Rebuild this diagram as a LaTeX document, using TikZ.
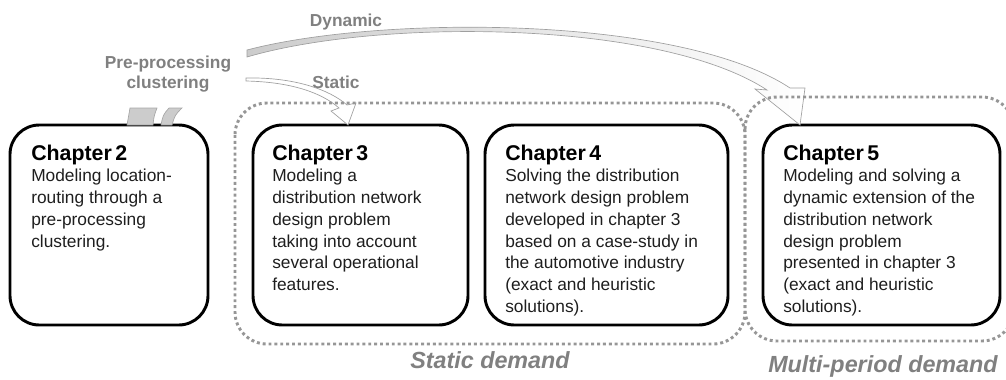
\documentclass[tikz,border=0pt]{standalone}
\usepackage{fontspec}
\setmainfont{Liberation Sans}
\usepackage{tikz}
\usetikzlibrary{positioning,calc}
\definecolor{lblgray}{RGB}{128,128,128}
\definecolor{dotgray}{RGB}{150,150,150}
\definecolor{bodytext}{RGB}{30,30,30}

\begin{document}
\begin{tikzpicture}[x=0.75pt, y=-0.75pt,
			chapbox/.style = {draw, line width=2.2pt, rounded corners=22pt,
				minimum height=150pt, inner sep=0pt, outer sep=0pt},
			chaptext/.style = {anchor=north west, align=left, inner sep=0pt,
				text=bodytext, font=\fontsize{13}{16.3}\selectfont},
			demandbox/.style = {draw=dotgray, line width=2.2pt,
				dash pattern=on 2.2pt off 2.2pt, rounded corners=24pt},
			lbl/.style = {text=lblgray, font=\bfseries\fontsize{13}{15.4}\selectfont,
				align=center, inner sep=0pt},
			demandlbl/.style = {text=lblgray, anchor=base, inner sep=0pt,
				font=\bfseries\itshape\fontsize{17.5}{20}\selectfont},
			blockarrow/.style = {draw=gray!75, line width=0.5pt, fill=white},
			stubband/.style = {draw=gray!70, line width=0.5pt, fill=gray!40}]
			\useasboundingbox (0,0) rectangle (1006,379);

			% chapters
			\node[chapbox, minimum width=148.5pt] (ch2) at (109,225) {};
			\node[chapbox, minimum width=161.25pt, right=33.75pt of ch2] (ch3) {};
			\node[chapbox, minimum width=182.25pt, right=12.75pt of ch3] (ch4) {};
			\node[chapbox, minimum width=177.75pt, right=26.25pt of ch4] (ch5) {};

			\node[chaptext] (t2) at ([shift={(21,19.5)}]ch2.north west)
			{{\color{black}\bfseries\fontsize{16}{16.3}\selectfont Chapter\,2}\\
				Modeling location-\\
				routing through a\\
				pre-processing\\
				clustering.};
			\node[chaptext] (t3) at ([shift={(19,19.5)}]ch3.north west)
			{{\color{black}\bfseries\fontsize{16}{16.3}\selectfont Chapter\,3}\\
				Modeling a\\
				distribution network\\
				design problem\\
				taking into account\\
				several operational\\
				features.};
			\node[chaptext] (t4) at ([shift={(20,19.5)}]ch4.north west)
			{{\color{black}\bfseries\fontsize{16}{16.3}\selectfont Chapter\,4}\\
				Solving the distribution\\
				network design problem\\
				developed in chapter 3\\
				based on a case-study in\\
				the automotive industry\\
				(exact and heuristic\\
				solutions).};
			\node[chaptext] (t5) at ([shift={(20,19.5)}]ch5.north west)
			{{\color{black}\bfseries\fontsize{16}{16.3}\selectfont Chapter\,5}\\
				Modeling and solving a\\
				dynamic extension of the\\
				distribution network\\
				design problem\\
				presented in chapter 3\\
				(exact and heuristic\\
				solutions).};

			% labels
			\node[lbl, anchor=base] (dyn) at (346,26) {Dynamic};
			\node[lbl, anchor=north] (pre) at (168,55.5) {Pre-processing\\clustering};
			\node[lbl, anchor=base] (stat) at (336,88) {Static};

			% arrows
			\coordinate (sTail) at (246,79.5);
			\coordinate (sTip) at ([xshift=71.25pt]ch3.north west);
			\coordinate (dTail) at (247,53.5);
			\coordinate (dTip) at ([xshift=27.75pt]ch5.north west);
			\path[blockarrow] ($(sTail)+(0,-1.5)$) .. controls (295,77) and (330,90) .. (347,105)
				-- (356,103) -- (sTip) -- (331,111) -- (339,108)
				.. controls (322,93) and (292,82) .. ($(sTail)+(0,1.5)$) -- cycle;
			\path[blockarrow, left color=gray!40, right color=white]
				($(dTail)+(0,-3.5)$) .. controls (380,15) and (680,15) .. (790,88)
				-- (805,88) -- (dTip) -- (755,89) -- (767,90)
				.. controls (660,20) and (380,18) .. ($(dTail)+(0,3.5)$) -- cycle;
			\path[stubband] (127,125) .. controls (128,116) .. (130,108) -- (157,108)
				.. controls (154,116) .. (153,125) -- cycle;
			\path[stubband] (161,125) .. controls (163,115) .. (169,108) -- (182,108)
				.. controls (175,115) .. (172,125) -- cycle;

			% demand groups
			\draw[demandbox] (235,103) rectangle (745,344);
			\draw[demandbox] (745,97) rectangle (1014,341);
			\node[demandlbl] (sdem) at (490,368) {Static demand};
			\node[demandlbl] (mdem) at (883,372) {Multi-period demand};
\end{tikzpicture}
\end{document}
